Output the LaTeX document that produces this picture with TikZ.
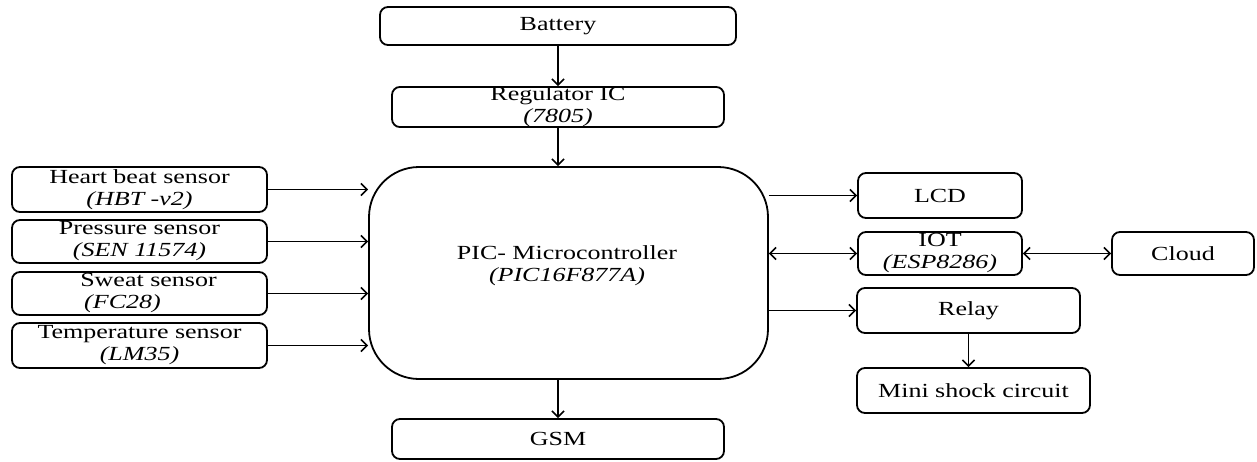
\documentclass[tikz,border=0pt]{standalone}
\usepackage{fontspec}
\setmainfont[FakeStretch=1.3]{Liberation Serif}
\usetikzlibrary{arrows.meta}
\begin{document}
\begin{tikzpicture}[x=1pt,y=-1pt,
  box/.style={draw, line width=1.8pt, rounded corners=8pt, inner sep=0pt, align=center,
    font=\fontsize{20}{22}\selectfont},
  tip/.style={},
  conn/.style={line width=1.8pt, -{Straight Barb[length=6pt,width=12pt,line width=1.6pt]}},
  bconn/.style={line width=1.8pt, {Straight Barb[length=6pt,width=12pt,line width=1.6pt]}-{Straight Barb[length=6pt,width=12pt,line width=1.6pt]}}]
\useasboundingbox (0,0) rectangle (1257,461);

\node[box, minimum width=356pt, minimum height=38pt] (bat) at (558,26) {Battery};
\node[box, minimum width=332pt, minimum height=40pt] (reg) at (558,107) {Regulator IC\\\textit{(7805)}};
\node[box, rounded corners=50pt, minimum width=399pt, minimum height=212pt] (pic) at (568.5,273) {};
\node[align=center, font=\fontsize{20}{22}\selectfont, inner sep=0pt] (pictext) at (567,266) {PIC- Microcontroller\\\textit{(PIC16F877A)}};
\node[box, minimum width=332pt, minimum height=40pt] (gsm) at (558,439) {GSM};

\node[box, minimum width=255pt, minimum height=45pt] (hb) at (139.5,189.5) {Heart beat sensor\\\textit{(HBT -v2)}};
\node[box, minimum width=255pt, minimum height=43pt] (ps) at (139.5,241.5) {Pressure sensor\\\textit{(SEN 11574)}};
\node[box, minimum width=255pt, minimum height=43pt] (sw) at (139.5,293.5) {\hspace*{18pt}Sweat sensor\\\textit{(FC28)}\hspace*{34pt}};
\node[box, minimum width=255pt, minimum height=45pt] (tp) at (139.5,345.5) {Temperature sensor\\\textit{(LM35)}};

\node[box, minimum width=164pt, minimum height=45pt] (lcd) at (940,195.5) {LCD};
\node[box, minimum width=164pt, minimum height=43pt] (iot) at (940,253.5) {IOT\\\textit{(ESP8286)}};
\node[box, minimum width=142pt, minimum height=43pt] (cloud) at (1183,253.5) {Cloud};
\node[box, minimum width=223pt, minimum height=45pt] (relay) at (968.5,310.5) {Relay};
\node[box, minimum width=233pt, minimum height=45pt] (mini) at (973.5,390.5) {Mini shock circuit};

\draw[conn] (bat.south) -- (reg.north);
\draw[conn] (reg.south) -- (reg.south |- pic.north);
\draw[conn] (gsm.north |- pic.south) -- (gsm.north);

\draw[conn] (hb.east) -- (hb.east -| pic.west);
\draw[conn] (ps.east) -- (ps.east -| pic.west);
\draw[conn] (sw.east) -- (sw.east -| pic.west);
\draw[conn] (tp.east) -- (tp.east -| pic.west);

\draw[conn] (lcd.west -| pic.east) -- (lcd.west);
\draw[bconn] (iot.west -| pic.east) -- (iot.west);
\draw[bconn] (iot.east) -- (cloud.west);
\draw[conn] (relay.west -| pic.east) -- (relay.west);
\draw[conn] (relay.south) -- (relay.south |- mini.north);
\end{tikzpicture}
\end{document}
